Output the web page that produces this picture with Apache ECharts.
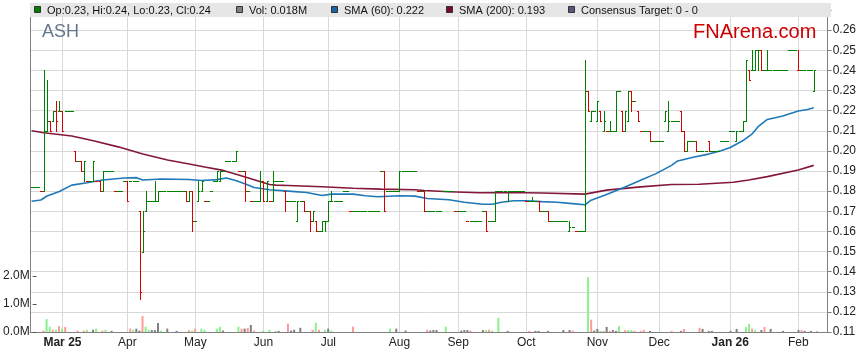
<!DOCTYPE html>
<html><head><meta charset="utf-8">
<script src="https://cdn.jsdelivr.net/npm/echarts@6/dist/echarts.min.js"></script>
<style>html,body{margin:0;padding:0;background:#fff}#c{width:859px;height:363px}</style>
</head><body><div id="c"></div>
<script>
// ---- axis / tick data ----
const dayCount = 258;
const tickIndex = [10,31,53,75,96,119,138,160,183,203,226,248];
const tickLabels = ['Mar 25','Apr','May','Jun','Jul','Aug','Sep','Oct','Nov','Dec','Jan 26','Feb'];
const boldLabels = ['Mar 25','Jan 26'];

// ---- price data (one value per trading day) ----
const opens = [
.182,.182,.182,.18,.18,.21,.215,.215,.22,.22,
.22,.22,.22,.22,.20,.195,.195,.19,.185,.185,
.185,.185,.185,.18,.19,.19,.19,.18,.18,.18,
.185,.185,.185,.185,.185,.17,.15,.17,.175,.175,
.175,.175,.18,.18,.18,.18,.18,.18,.18,.18,
.18,.175,.18,.165,.175,.18,.175,.175,.18,.185,
.185,.185,.19,.195,.195,.195,.195,.19,.19,.19,
.18,.175,.175,.175,.175,.185,.175,.175,.175,.185,
.185,.185,.18,.175,.175,.175,.165,.175,.175,.17,
.17,.165,.165,.16,.16,.165,.165,.175,.175,.175,
.175,.18,.18,.17,.17,.17,.17,.17,.17,.17,
.17,.17,.17,.19,.19,.18,.18,.18,.18,.18,
.19,.19,.19,.19,.19,.18,.18,.18,.17,.17,
.17,.17,.17,.18,.18,.18,.18,.17,.17,.17,
.17,.165,.165,.165,.165,.165,.17,.17,.165,.165,
.165,.18,.18,.18,.175,.18,.18,.18,.18,.18,
.175,.175,.175,.175,.175,.17,.17,.17,.165,.165,
.165,.165,.165,.165,.16,.162,.16,.16,.16,.16,
.23,.215,.22,.215,.22,.21,.21,.21,.21,.21,
.23,.22,.21,.215,.23,.225,.22,.21,.21,.21,
.21,.205,.205,.205,.205,.215,.21,.215,.215,.215,
.22,.21,.20,.205,.205,.205,.20,.20,.20,.205,
.20,.20,.20,.205,.205,.205,.21,.21,.205,.21,
.21,.215,.24,.24,.24,.25,.25,.24,.24,.24,
.24,.24,.24,.24,.24,.25,.25,.25,.24,.24,
.24,.24,.24,.23];
const highs = [
.182,.182,.182,.18,.24,.235,.215,.22,.225,.225,
.22,.22,.22,.22,.20,.195,.195,.195,.185,.185,
.195,.185,.185,.19,.19,.19,.19,.18,.18,.18,
.185,.185,.185,.185,.185,.17,.17,.18,.175,.175,
.185,.18,.18,.18,.18,.18,.18,.18,.18,.18,
.18,.18,.18,.165,.185,.185,.175,.175,.18,.185,
.19,.19,.19,.195,.195,.195,.20,.19,.19,.19,
.18,.175,.175,.175,.19,.185,.185,.175,.19,.185,
.185,.185,.18,.175,.175,.175,.175,.175,.175,.17,
.17,.17,.165,.16,.165,.165,.175,.18,.175,.175,
.175,.18,.18,.17,.17,.17,.17,.17,.17,.17,
.17,.17,.17,.19,.19,.18,.18,.18,.18,.19,
.19,.19,.19,.19,.19,.18,.18,.18,.17,.17,
.17,.17,.17,.18,.18,.18,.18,.17,.17,.17,
.17,.165,.165,.165,.165,.165,.17,.17,.165,.165,
.18,.18,.18,.18,.18,.18,.18,.18,.18,.18,
.175,.175,.177,.175,.175,.17,.17,.17,.165,.165,
.165,.165,.165,.165,.165,.162,.16,.16,.16,.245,
.23,.22,.22,.225,.22,.22,.21,.215,.21,.23,
.23,.22,.22,.23,.23,.225,.22,.21,.21,.21,
.21,.205,.205,.205,.205,.22,.225,.215,.215,.215,
.22,.21,.205,.205,.205,.205,.20,.20,.20,.205,
.20,.20,.20,.205,.205,.205,.21,.21,.21,.21,
.215,.245,.24,.25,.25,.25,.25,.24,.25,.24,
.24,.24,.24,.24,.24,.25,.25,.25,.25,.24,
.24,.24,.24,.24];
const lows = [
.182,.182,.182,.18,.18,.21,.21,.215,.21,.22,
.21,.22,.22,.22,.195,.195,.19,.185,.185,.185,
.185,.185,.18,.18,.19,.19,.19,.18,.18,.18,
.185,.175,.185,.185,.185,.1265,.15,.17,.175,.175,
.175,.175,.18,.18,.18,.18,.18,.18,.18,.18,
.175,.175,.16,.165,.175,.18,.175,.175,.18,.185,
.185,.185,.19,.195,.195,.195,.195,.19,.19,.175,
.18,.175,.175,.175,.175,.175,.175,.175,.175,.185,
.185,.185,.17,.175,.175,.175,.165,.175,.17,.17,
.16,.165,.16,.16,.16,.16,.165,.175,.175,.175,
.175,.18,.18,.17,.17,.17,.17,.17,.17,.17,
.17,.17,.17,.19,.17,.18,.18,.18,.18,.18,
.19,.19,.19,.19,.19,.18,.18,.17,.17,.17,
.17,.17,.17,.18,.18,.18,.18,.17,.17,.17,
.17,.165,.165,.165,.165,.165,.17,.16,.165,.165,
.165,.18,.18,.18,.175,.18,.18,.18,.18,.18,
.175,.175,.175,.175,.17,.17,.17,.165,.165,.165,
.165,.165,.165,.165,.16,.162,.16,.16,.16,.16,
.22,.215,.22,.215,.215,.21,.21,.21,.21,.21,
.23,.21,.21,.215,.22,.225,.215,.21,.21,.21,
.205,.205,.205,.205,.205,.215,.21,.215,.215,.215,
.21,.20,.20,.205,.205,.20,.20,.20,.20,.20,
.20,.20,.20,.205,.205,.205,.21,.21,.205,.21,
.21,.215,.235,.24,.24,.24,.24,.24,.24,.24,
.24,.24,.24,.24,.24,.25,.25,.25,.24,.24,
.24,.24,.24,.23];
const closes = [
.182,.182,.182,.18,.21,.215,.21,.22,.215,.22,
.21,.22,.22,.22,.195,.195,.19,.195,.185,.185,
.195,.185,.18,.19,.19,.19,.19,.18,.18,.18,
.185,.175,.185,.185,.185,.13,.16,.175,.175,.175,
.175,.18,.18,.18,.18,.18,.18,.18,.18,.18,
.175,.18,.165,.165,.18,.185,.175,.175,.18,.185,
.19,.19,.19,.195,.195,.195,.20,.19,.19,.18,
.18,.175,.175,.175,.185,.175,.185,.175,.185,.185,
.185,.185,.175,.175,.175,.175,.175,.175,.17,.17,
.165,.17,.16,.16,.165,.165,.175,.175,.175,.175,
.175,.18,.18,.17,.17,.17,.17,.17,.17,.17,
.17,.17,.17,.19,.17,.18,.18,.18,.18,.19,
.19,.19,.19,.19,.19,.18,.18,.17,.17,.17,
.17,.17,.17,.18,.18,.18,.18,.17,.17,.17,
.17,.165,.165,.165,.165,.165,.17,.16,.165,.165,
.18,.18,.18,.18,.18,.18,.18,.18,.18,.18,
.175,.175,.175,.175,.17,.17,.17,.165,.165,.165,
.165,.165,.165,.165,.162,.162,.16,.16,.16,.23,
.22,.22,.22,.225,.215,.215,.21,.21,.21,.23,
.23,.21,.22,.23,.225,.225,.215,.21,.21,.21,
.205,.205,.205,.205,.205,.22,.215,.215,.215,.215,
.21,.20,.205,.205,.205,.20,.20,.20,.20,.20,
.20,.20,.20,.205,.205,.205,.21,.21,.21,.21,
.215,.245,.235,.24,.25,.25,.24,.24,.24,.24,
.24,.24,.24,.24,.24,.25,.25,.25,.24,.24,
.24,.24,.24,.24];
// volume in millions
const volumes = [
0,0,0,0.05,0.46,0.19,0.08,0.08,0.21,0.12,
0.18,0,0,0,0.05,0,0.05,0.08,0,0.08,
0.12,0,0.05,0.08,0,0.04,0,0,0,0,
0,0.12,0.08,0.12,0.05,0.57,0.19,0.08,0.07,0.07,
0.32,0.05,0,0.12,0,0,0.04,0,0,0,
0.07,0.05,0.12,0,0.12,0.08,0,0,0,0.12,
0.19,0.05,0,0,0,0,0.19,0.12,0.12,0.15,
0.25,0.05,0,0,0.04,0,0.08,0,0.04,0.04,
0,0,0.30,0.05,0.08,0,0.15,0,0,0,
0.08,0.33,0.08,0,0.08,0.12,0.05,0,0,0,
0,0,0,0.19,0,0,0,0,0,0,
0,0,0,0,0,0.12,0,0.12,0,0,
0.05,0,0,0,0,0,0,0.08,0.05,0.07,
0.07,0,0,0.19,0,0,0,0,0.05,0.07,
0.07,0.05,0,0,0,0.07,0.07,0.08,0.05,0,
0.51,0,0,0.04,0,0,0,0,0,0,
0.04,0,0.04,0.04,0,0,0.04,0,0,0,
0,0.07,0,0.07,0.05,0,0,0,0,1.96,
0.44,0.05,0.11,0.04,0.04,0.18,0.04,0.07,0.04,0.21,
0,0.07,0.07,0.07,0.04,0,0.04,0.07,0,0.04,
0,0,0,0,0,0,0.04,0,0,0.04,
0.11,0,0,0,0,0.15,0.11,0,0.04,0.04,
0,0,0,0,0,0.04,0,0.11,0,0,
0.18,0.29,0.12,0.07,0,0.07,0.18,0,0.11,0,
0,0,0.04,0,0,0,0,0.07,0.07,0.04,
0,0.04,0,0.018];

// ---- moving averages (day index, value) ----
const sma60Days = [0,3,5,9,13,18,23,30,34,36,42,51,55,60,63,66,69,72,77,83,89,94,97,104,108,112,119,124,128,135,140,146,149,152,156,160,165,170,175,179,181,186,192,197,202,207,209,214,219,223,226,230,233,235,238,243,248,251,253];
const sma60Vals = [.175,.1756,.1776,.1798,.183,.1842,.1855,.1865,.1867,.1855,.186,.1858,.1853,.1857,.1865,.1853,.1837,.1818,.1807,.18,.1793,.1778,.1785,.1785,.1777,.1772,.1777,.1775,.1763,.1757,.1745,.1735,.1735,.1745,.1752,.1752,.1748,.1745,.1738,.1732,.1755,.1783,.1821,.1854,.1887,.1928,.195,.1968,.1984,.2001,.2017,.205,.2083,.212,.2156,.2173,.2198,.2206,.2214];
const sma200Days = [0,4,13,20,28,36,44,51,56,62,67,72,77,79,83,94,104,113,124,127,135,145,155,165,179,186,197,207,216,227,232,238,248,253];
const sma200Vals = [.21,.209,.2074,.205,.202,.1984,.1955,.1935,.192,.1903,.188,.1857,.1833,.183,.1828,.1822,.1814,.181,.1807,.1803,.1797,.1792,.1793,.1791,.1785,.1805,.1821,.1833,.1834,.1844,.1855,.1872,.1905,.1928];

// ---- legend texts ----
const legendItems = [
  {x:34, color:'#008000', text:'Op:0.23, Hi:0.24, Lo:0.23, Cl:0.24'},
  {x:236, color:'#808080', text:'Vol: 0.018M'},
  {x:331, color:'#1565a8', text:'SMA (60): 0.222'},
  {x:446, color:'#7a0a2a', text:'SMA (200): 0.193'},
  {x:568, color:'#555580', text:'Consensus Target: 0 - 0'}
];

// ---- build ----
const cats = Array.from({length: dayCount}, (_, i) => String(i));
const labelOf = {};
tickIndex.forEach((d, k) => labelOf[d] = tickLabels[k]);

const GREEN = '#008000', RED = '#d80000';
function barColor(i) {
  const c = closes[i], o = opens[i];
  if (c > o) return GREEN;
  if (c < o) return RED;
  const pc = i > 0 ? closes[i - 1] : c;
  return c >= pc ? GREEN : RED;
}
const ohlcData = opens.map((o, i) => [i, o, highs[i], lows[i], closes[i]]);
const volData = volumes.map((v, i) => {
  const pc = i > 0 ? closes[i - 1] : closes[i];
  const col = closes[i] > pc ? '#8cf08c' : (closes[i] < pc ? '#ff9a9a' : '#7f7f7f');
  return {value: v, itemStyle: {color: col}};
});
const sma60 = sma60Days.map((d, k) => [d, sma60Vals[k]]);
const sma200 = sma200Days.map((d, k) => [d, sma200Vals[k]]);

const FONT = '"Liberation Sans", Arial, sans-serif';
const graphic = [
  {type:'rect', z:100, shape:{x:30, y:3, width:801, height:14}, style:{fill:'#e6e6e6'}}
];
legendItems.forEach(it => {
  graphic.push({type:'rect', z:101, shape:{x:it.x + 0.5, y:6.5, width:6, height:6}, style:{fill:it.color, stroke:'#333', lineWidth:1}});
  graphic.push({type:'text', z:101, x:it.x + 13, y:10.5, style:{text:it.text, fontSize:11, fontFamily:FONT, fill:'#111', verticalAlign:'middle'}});
});
graphic.push({type:'text', z:101, x:42, y:32, style:{text:'ASH', fontSize:18, fontFamily:FONT, fill:'#66778a', verticalAlign:'middle'}});
graphic.push({type:'text', z:101, x:693, y:32, style:{text:'FNArena.com', fontSize:20, fontFamily:FONT, fill:'#cc0000', verticalAlign:'middle'}});

const chart = echarts.init(document.getElementById('c'), null, {renderer:'canvas'});
chart.setOption({
  animation: false,
  backgroundColor: '#fff',
  textStyle: {fontFamily: FONT},
  grid: [
    {left:30, right:28, top:10, height:322},
    {left:30, right:28, top:276, height:56}
  ],
  xAxis: [
    {type:'category', gridIndex:0, data:cats, boundaryGap:true,
     axisLine:{show:true, lineStyle:{color:'#808080'}}, axisTick:{show:false},
     axisLabel:{interval:(idx) => labelOf[idx] !== undefined, margin:5, fontSize:12, color:'#222',
       formatter:(v, idx) => { const t = labelOf[idx]; if (!t) return ''; return boldLabels.includes(t) ? '{b|' + t + '}' : t; },
       rich:{b:{fontWeight:'bold', fontSize:12, color:'#222'}}},
     splitLine:{show:true, interval:(idx) => labelOf[idx] !== undefined, alignWithLabel:true, lineStyle:{color:'#d9d9d9', width:1}}},
    {type:'category', gridIndex:1, data:cats, boundaryGap:true, show:false}
  ],
  yAxis: [
    {type:'value', gridIndex:0, position:'right', min:0.11, max:0.27, interval:0.01,
     axisLine:{show:true, lineStyle:{color:'#808080'}},
     axisTick:{show:true, length:4, lineStyle:{color:'#808080'}},
     axisLabel:{margin:5, fontSize:12, color:'#222', formatter:(v) => v > 0.265 ? '' : v.toFixed(2)},
     splitLine:{show:true, lineStyle:{color:'#d9d9d9', width:1}}},
    {type:'value', gridIndex:0, position:'left', min:0, max:1,
     axisLine:{show:true, lineStyle:{color:'#808080'}}, axisTick:{show:false}, axisLabel:{show:false}, splitLine:{show:false}},
    {type:'value', gridIndex:1, position:'left', min:0, max:2, interval:1,
     axisLine:{show:false}, axisTick:{show:true, inside:true, length:4, lineStyle:{color:'#555'}},
     axisLabel:{margin:3, fontSize:12, color:'#222', formatter:(v) => v.toFixed(1) + 'M'},
     splitLine:{show:false}}
  ],
  graphic: graphic,
  series: [
    {type:'bar', xAxisIndex:1, yAxisIndex:2, data:volData, barWidth:2, z:1},
    {type:'line', xAxisIndex:0, yAxisIndex:0, data:sma200, symbol:'none', smooth:false,
     lineStyle:{color:'#82183a', width:1.6}, z:2},
    {type:'line', xAxisIndex:0, yAxisIndex:0, data:sma60, symbol:'none', smooth:false,
     lineStyle:{color:'#1f78b8', width:1.6}, z:2},
    {type:'custom', xAxisIndex:0, yAxisIndex:0, data:ohlcData, z:3,
     encode:{x:0, y:[1,2,3,4]},
     renderItem:(params, api) => {
       const i = api.value(0);
       const pO = api.coord([i, api.value(1)]);
       const pH = api.coord([i, api.value(2)]);
       const pL = api.coord([i, api.value(3)]);
       const pC = api.coord([i, api.value(4)]);
       const x = Math.round(pH[0]) + 0.5;
       const r = (y) => Math.round(y) + 0.5;
       const col = barColor(i);
       const st = {stroke: col, lineWidth: 1};
       const hw = 1.6;
       const kids = [];
       if (Math.abs(pH[1] - pL[1]) >= 1) {
         kids.push({type:'line', shape:{x1:x, y1:Math.round(pH[1]), x2:x, y2:Math.round(pL[1]) + 1}, style:st});
       }
       kids.push({type:'line', shape:{x1:x - hw, y1:r(pO[1]), x2:x + 0.5, y2:r(pO[1])}, style:st});
       kids.push({type:'line', shape:{x1:x - 0.5, y1:r(pC[1]), x2:x + hw, y2:r(pC[1])}, style:st});
       return {type:'group', children:kids};
     }}
  ]
});
</script>
</body></html>
